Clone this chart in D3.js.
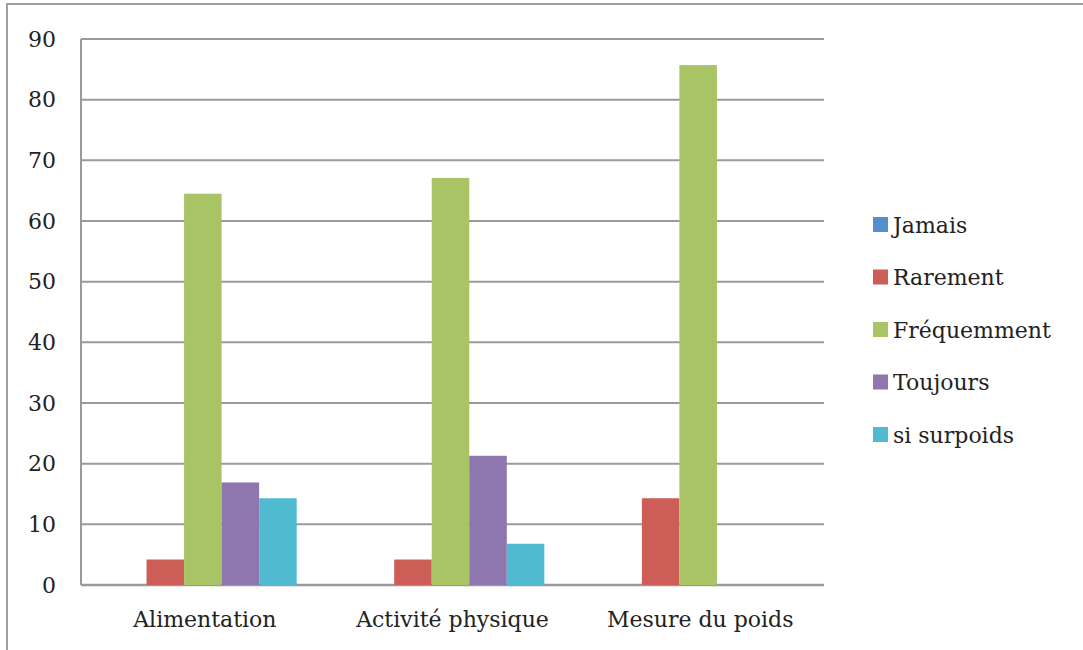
<!DOCTYPE html>
<html><head><meta charset="utf-8">
<script src="https://cdn.jsdelivr.net/npm/d3@7"></script>
<style>body{margin:0;background:#fff}svg{display:block}</style>
</head><body>
<svg id="c" width="1083" height="650"></svg>
<script>
const categories = ["Alimentation", "Activité physique", "Mesure du poids"];
const seriesNames = ["Jamais", "Rarement", "Fréquemment", "Toujours", "si surpoids"];
const jamais = [0, 0, 0];
const rarement = [4.2, 4.2, 14.3];
const frequemment = [64.5, 67.1, 85.7];
const toujours = [16.9, 21.3, 0];
const siSurpoids = [14.3, 6.8, 0];
const yTicks = [0, 10, 20, 30, 40, 50, 60, 70, 80, 90];
const colors = ["#5390CB", "#CD5D57", "#A8C464", "#8E76AF", "#4FBAD0"];

(function () {
const seriesValues = [jamais, rarement, frequemment, toujours, siSurpoids];
const svg = d3.select("#c");
const font = "DejaVu Serif";
const fs = 22;
const pL = 81, pR = 824, pT = 39, pB = 585;

svg.append("rect").attr("x", 7).attr("y", 4).attr("width", 1090).attr("height", 660)
  .attr("fill", "none").attr("stroke", "#a0a0a0").attr("stroke-width", 2);

const x0 = d3.scaleBand().domain(categories).range([pL, pR]).paddingInner(0).paddingOuter(0);
const x1 = d3.scaleBand().domain(seriesNames).range([28, x0.bandwidth() - 32]).padding(0);
const y = d3.scaleLinear().domain([0, 90]).range([pB, pT]);

const g = svg.append("g");
g.selectAll("line.grid").data(yTicks).join("line")
  .attr("x1", pL).attr("x2", pR)
  .attr("y1", d => y(d)).attr("y2", d => y(d))
  .attr("stroke", "#9a9a9e").attr("stroke-width", d => d === 0 ? 2.5 : 2);
g.append("line").attr("x1", pL).attr("x2", pL).attr("y1", pT).attr("y2", pB)
  .attr("stroke", "#9a9a9e").attr("stroke-width", 2);

categories.forEach((c, ci) => {
  seriesNames.forEach((s, si) => {
    const v = seriesValues[si][ci];
    if (v <= 0) return;
    g.append("rect")
      .attr("x", x0(c) + x1(s)).attr("width", x1.bandwidth())
      .attr("y", y(v)).attr("height", y(0) - y(v))
      .attr("fill", colors[si]);
  });
});

const yAxis = d3.axisLeft(y).tickValues(yTicks).tickSize(0).tickPadding(0);
const ya = svg.append("g").attr("transform", `translate(56,0)`).call(yAxis);
ya.select(".domain").remove();
ya.selectAll("text").attr("font-family", font).attr("font-size", fs).attr("fill", "#222");

const xAxis = d3.axisBottom(x0).tickSize(0).tickPadding(0);
const xa = svg.append("g").attr("transform", `translate(0,611)`).call(xAxis);
xa.select(".domain").remove();
xa.selectAll("text").attr("font-family", font).attr("font-size", fs).attr("fill", "#222");

const leg = svg.append("g");
seriesNames.forEach((s, i) => {
  const cy = 225 + i * 52.5;
  leg.append("rect").attr("x", 873).attr("y", cy - 8).attr("width", 15).attr("height", 15).attr("fill", colors[i]);
  leg.append("text").attr("x", 893).attr("y", cy).attr("dy", "0.35em")
    .attr("font-family", font).attr("font-size", fs).attr("fill", "#222").text(s);
});
})();
</script>
</body></html>
